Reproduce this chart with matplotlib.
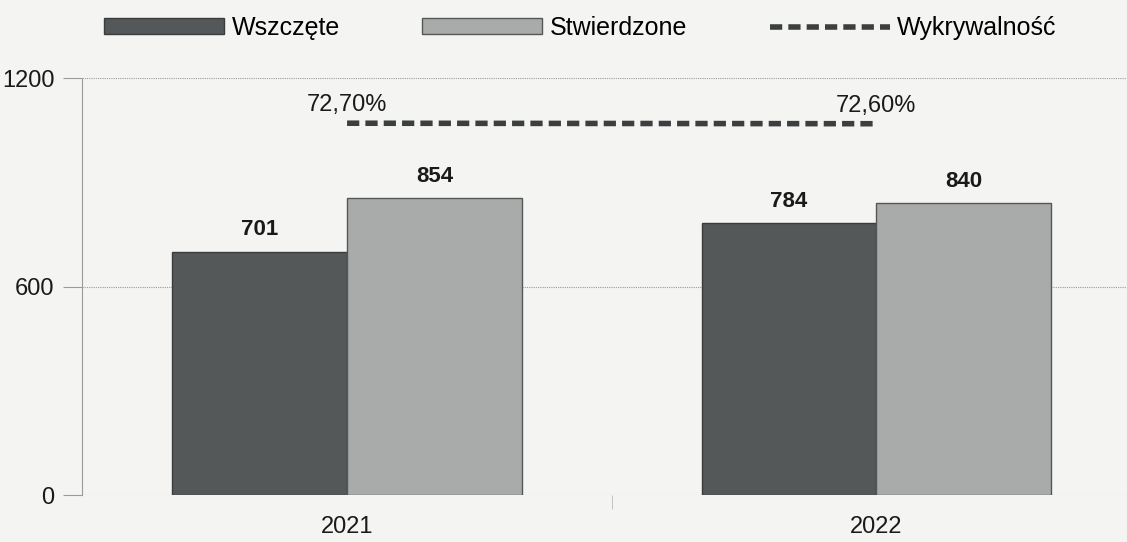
import matplotlib
matplotlib.use("Agg")
import matplotlib.pyplot as plt
import numpy as np

plt.rcParams["font.family"] = ["Liberation Sans", "DejaVu Sans"]

years = ["2021", "2022"]
wszczete = [701, 784]
stwierdzone = [854, 840]
wykrywalnosc = [72.7, 72.6]
wyk_labels = ["72,70%", "72,60%"]

BG, DARK, LIGHT, LINE, GRID = "#f4f4f3", "#555858", "#a9abab", "#3c3f3f", "#9a9a9a"

fig = plt.figure(figsize=(11.27, 5.42), dpi=100, facecolor=BG)
ax = fig.add_axes([0.0732, 0.0867, 0.939, 0.769], facecolor=BG)
x = np.arange(len(years))
w = 0.33
b1 = ax.bar(x - w / 2, wszczete, w, color=DARK, edgecolor="#3a3c3c", lw=1, label="Wszczęte", zorder=3)
b2 = ax.bar(x + w / 2, stwierdzone, w, color=LIGHT, edgecolor="#555757", lw=1, label="Stwierdzone", zorder=3)
for bars in (b1, b2):
    for r in bars:
        ax.annotate("%d" % r.get_height(), (r.get_x() + r.get_width() / 2, r.get_height()),
                    xytext=(0, 8), textcoords="offset points", ha="center", va="bottom",
                    fontsize=16, fontweight="bold", color="#1a1a1a")

ax.set_xlim(-0.5, 1.5); ax.set_ylim(0, 1200)
ax.set_yticks([0, 600, 1200])
ax.tick_params(axis="y", labelsize=17, length=14, color=GRID, width=0.8, pad=6, labelcolor="#1a1a1a")
ax.set_xticks(x); ax.set_xticklabels(years)
ax.tick_params(axis="x", labelsize=17, length=0, pad=15, labelcolor="#1a1a1a")
ax.set_xticks([0.5], minor=True)
ax.tick_params(axis="x", which="minor", length=10, color="#bbbbbb", direction="out")
ax.grid(axis="y", color=GRID, lw=0.8, ls=(0, (1, 1)), zorder=0)
for s in ("top", "right", "bottom"):
    ax.spines[s].set_visible(False)
ax.spines["left"].set_color(GRID); ax.spines["left"].set_linestyle((0, (1, 1)))

ax2 = ax.twinx()
ax2.set_ylim(0, 81.5)
ax2.axis("off")
ln, = ax2.plot(x, wykrywalnosc, color=LINE, lw=4, ls=(0, (2.2, 1.1)), label="Wykrywalność")
for xi, v, t in zip(x, wykrywalnosc, wyk_labels):
    ax2.annotate(t, (xi, v), xytext=(0, 5), textcoords="offset points", ha="center", va="bottom",
                 fontsize=17, color="#1a1a1a")

fig.legend(handles=[b1, b2, ln], loc="center", bbox_to_anchor=(0.515, 0.948), ncol=3, frameon=False,
           fontsize=18, handlelength=4.8, handleheight=0.6, handletextpad=0.3, columnspacing=3.3)
fig.savefig("out.png", dpi=100, facecolor=BG)
